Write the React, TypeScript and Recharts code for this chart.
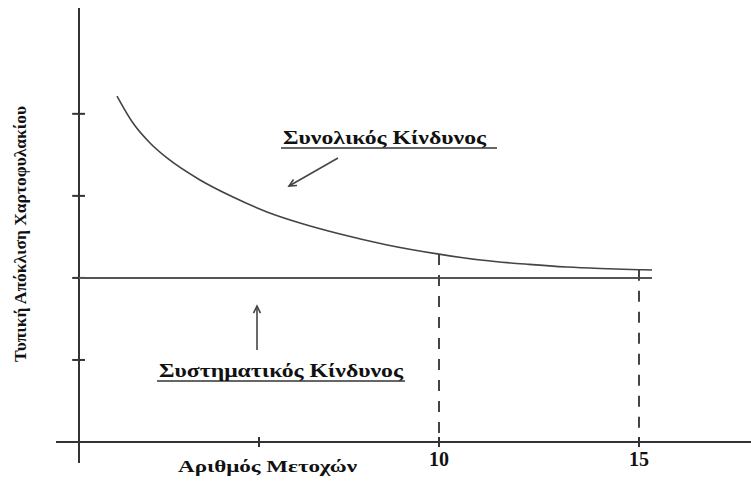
import React from "react";
import { ComposedChart, Line, XAxis, YAxis, ReferenceLine, Label } from "recharts";

// total risk curve (number of stocks -> portfolio std. deviation), schematic units
const stocks = [1.95, 2.35, 2.775, 3.2, 4.025, 4.85, 5.7, 6.525, 7.525, 8.675, 10, 11.1, 12.25, 13.2, 14.025, 15, 15.325];
const totalRisk = [4.217, 3.888, 3.645, 3.462, 3.194, 2.986, 2.804, 2.669, 2.535, 2.405, 2.29, 2.215, 2.165, 2.133, 2.115, 2.1, 2.097];
const systematicRisk = 2;

const xTicks = [5.5, 10, 15];
const xTickLabels = ["", "10", "15"];
const yTicks = [1, 2, 3, 4];
const dashedAt = [10, 15];

const xDomain: [number, number] = [0.425, 17.8];
const yDomain: [number, number] = [0, 5.29];
const yAxisAt = 1;
const yAxisBelow = -0.256;

const data = stocks.map((x, i) => ({ x, y: totalRisk[i] }));

const INK = "#111";
const serif = "'Liberation Serif', 'Times New Roman', serif";

const XTick = (props: any) => {
  const { x, y, index } = props;
  return (
    <g>
      <line x1={x} x2={x} y1={y - 5} y2={y + 5} stroke="#333" strokeWidth={2} />
      <text x={x} y={y + 24} textAnchor="middle" fontFamily={serif} fontWeight="bold" fontSize={20} fill={INK}>
        {xTickLabels[index]}
      </text>
    </g>
  );
};

const arrow = (props: any) => {
  const { x1, y1, x2, y2 } = props;
  const a = Math.atan2(y2 - y1, x2 - x1);
  const len = 8;
  const spread = 0.45;
  return (
    <g stroke="#444" strokeWidth={1.6} fill="none">
      <line x1={x1} y1={y1} x2={x2} y2={y2} />
      <polyline
        points={`${x2 - len * Math.cos(a - spread)},${y2 - len * Math.sin(a - spread)} ${x2},${y2} ${x2 - len * Math.cos(a + spread)},${y2 - len * Math.sin(a + spread)}`}
      />
    </g>
  );
};

const underlinedText = (text: string, width: number, size: number) => (props: any) => {
  const { x1, y1, x2 } = props;
  return (
    <g>
      <line x1={x1} x2={x2} y1={y1} y2={y1} stroke="#333" strokeWidth={1.6} />
      <text
        x={x1 + 2}
        y={y1 - 4}
        fontFamily={serif}
        fontWeight="bold"
        fontSize={size}
        fill={INK}
        textLength={width}
        lengthAdjust="spacingAndGlyphs"
      >
        {text}
      </text>
    </g>
  );
};

const yLabel = (props: any) => {
  const { viewBox } = props;
  const cx = viewBox.x + 20;
  const cy = viewBox.y + viewBox.height / 2 + 9;
  return (
    <text
      x={cx}
      y={cy}
      transform={`rotate(-90, ${cx}, ${cy})`}
      textAnchor="middle"
      dominantBaseline="central"
      fontFamily={serif}
      fontWeight="bold"
      fontSize={17}
      fill={INK}
      textLength={256}
      lengthAdjust="spacingAndGlyphs"
    >
      Τυπική Απόκλιση Χαρτοφυλακίου
    </text>
  );
};

const xLabel = (props: any) => {
  const { x1, y1 } = props;
  return (
    <text x={x1} y={y1} fontFamily={serif} fontWeight="bold" fontSize={17} fill={INK} textLength={179} lengthAdjust="spacingAndGlyphs">
      Αριθμός Μετοχών
    </text>
  );
};

export default function App() {
  return (
    <div style={{ position: "absolute", left: 0, top: 0, background: "#fff" }}>
      <ComposedChart width={751} height={483} data={data} margin={{ top: 8, right: 0, bottom: 0, left: 0 }}>
        <XAxis
          type="number"
          dataKey="x"
          domain={xDomain}
          ticks={xTicks}
          height={41}
          tickLine={false}
          tickSize={0}
          tickMargin={0}
          tick={<XTick />}
          axisLine={{ stroke: "#333", strokeWidth: 2 }}
          interval={0}
        />
        <YAxis type="number" domain={yDomain} width={56} axisLine={false} tickLine={false} tick={false}>
          <Label content={yLabel} />
        </YAxis>

        {/* y axis line, running a little below the x axis */}
        <ReferenceLine
          segment={[{ x: yAxisAt, y: yAxisBelow }, { x: yAxisAt, y: yDomain[1] }]}
          stroke="#333"
          strokeWidth={2}
          ifOverflow="visible"
        />
        {yTicks.map((t) => (
          <ReferenceLine
            key={t}
            segment={[{ x: yAxisAt - 0.17, y: t }, { x: yAxisAt + 0.15, y: t }]}
            stroke="#333"
            strokeWidth={2}
            ifOverflow="visible"
          />
        ))}

        {/* systematic risk */}
        <ReferenceLine
          segment={[{ x: yAxisAt, y: systematicRisk }, { x: stocks[stocks.length - 1], y: systematicRisk }]}
          stroke="#555"
          strokeWidth={2}
        />

        {dashedAt.map((d) => {
          const i = stocks.indexOf(d);
          return (
            <ReferenceLine
              key={d}
              segment={[{ x: d, y: totalRisk[i] }, { x: d, y: 0 }]}
              stroke="#444"
              strokeWidth={2}
              strokeDasharray="11 10"
            />
          );
        })}

        <Line type="monotone" dataKey="y" stroke="#444" strokeWidth={1.6} dot={false} isAnimationActive={false} />

        {/* annotations */}
        <ReferenceLine segment={[{ x: 6.05, y: 3.584 }, { x: 11.45, y: 3.584 }]} shape={underlinedText("Συνολικός Κίνδυνος", 203, 18)} />
        <ReferenceLine segment={[{ x: 7.475, y: 3.462 }, { x: 6.25, y: 3.12 }]} shape={arrow} />
        <ReferenceLine segment={[{ x: 2.95, y: 0.744 }, { x: 9.15, y: 0.744 }]} shape={underlinedText("Συστηματικός Κίνδυνος", 244, 18)} />
        <ReferenceLine segment={[{ x: 5.45, y: 1.121 }, { x: 5.45, y: 1.658 }]} shape={arrow} />
        <ReferenceLine segment={[{ x: 3.475, y: -0.37 }, { x: 7.95, y: -0.37 }]} shape={xLabel} ifOverflow="visible" />
      </ComposedChart>
    </div>
  );
}
